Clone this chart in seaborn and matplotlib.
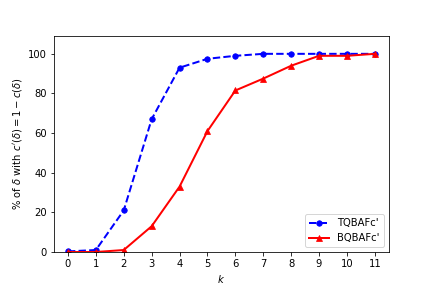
import matplotlib
matplotlib.use("Agg")
import matplotlib.pyplot as plt
import seaborn as sns

# datos
k = [0, 1, 2, 3, 4, 5, 6, 7, 8, 9, 10, 11]
tqbaf = [0.3, 1, 21, 67, 93, 97.5, 99, 100, 100, 100, 100, 100]
bqbaf = [0, 0, 1, 13, 33, 61, 81.5, 87.5, 94, 99, 99, 100]

fig, ax = plt.subplots(figsize=(6, 4), dpi=72)
fig.subplots_adjust(left=0.125, right=0.9, bottom=0.125, top=0.875)

sns.lineplot(x=k, y=tqbaf, ax=ax, color="blue", marker="o", markersize=5.5,
             markeredgecolor="blue", linestyle="--", linewidth=2, label="TQBAFc'")
sns.lineplot(x=k, y=bqbaf, ax=ax, color="red", marker="^", markersize=5.5,
             markeredgecolor="red", linestyle="-", linewidth=2, label="BQBAFc'")

ax.set_xticks(k)
ax.set_xlim(-0.5, 11.5)
ax.set_ylim(0, 109)
ax.set_xlabel("$k$")
ax.set_ylabel(r"% of $\delta$ with $c'(\delta) = 1 - c(\delta)$")
ax.legend(loc="lower right")

fig.savefig("out.png", dpi=72)
